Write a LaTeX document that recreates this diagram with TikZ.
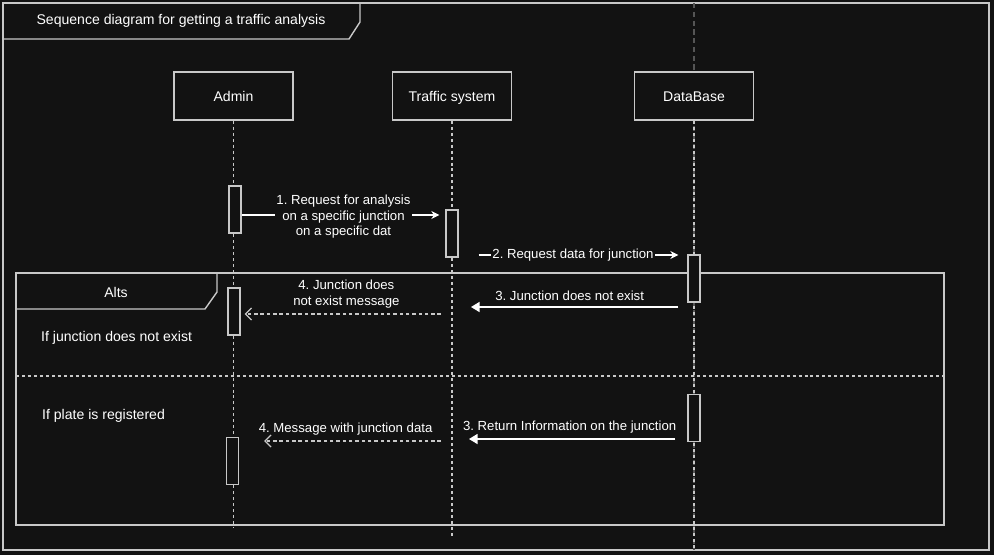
\documentclass[tikz,border=0pt]{standalone}
\usepackage{fontspec}
\setmainfont{Liberation Sans}
\usetikzlibrary{arrows.meta}
\definecolor{bgdark}{RGB}{18,18,18}
\definecolor{linegray}{RGB}{200,200,200}
\definecolor{fainted}{RGB}{85,85,85}
\tikzset{
	frame/.style={draw=linegray, line width=0.8pt},
	head/.style={draw=linegray, fill=bgdark, line width=0.8pt, text=white, minimum width=2.38cm, minimum height=0.96cm, text height=1.6ex, text depth=0.4ex},
	act/.style={draw=linegray, fill=bgdark, line width=0.8pt, minimum width=0.24cm, minimum height=0.94cm, inner sep=0pt},
	life/.style={draw=linegray, line width=0.7pt, dash pattern=on 1.7pt off 1.7pt},
	msg/.style={draw=white, line width=0.7pt, -{Stealth[length=1.6mm, width=1.6mm]}},
	reply/.style={draw=white, line width=0.7pt, -{Triangle[length=1.7mm, width=2mm]}},
	back/.style={draw=linegray, line width=0.7pt, dash pattern=on 2pt off 1.6pt, -{Straight Barb[length=1.2mm, width=2.4mm]}},
	lbl/.style={text=white, fill=bgdark, inner sep=1pt, align=center, font=\fontsize{7.5pt}{8.8pt}\selectfont},
	txt/.style={text=white},
	msgtxt/.style={text=white, inner sep=1pt, above=2pt, font=\fontsize{7.5pt}{8.8pt}\selectfont}
}
\frenchspacing
\begin{document}
\begin{tikzpicture}[x=0.02cm, y=-0.02cm, font=\fontsize{8pt}{9.6pt}\selectfont]
	\fill[bgdark] (0,0) rectangle (994,555);
	\useasboundingbox (0,0) rectangle (994,555);
	% outer frame and title
	\draw[frame] (3,3) rectangle (989,550);
	\draw[frame] (360,3) -- (360,22) -- (349,39) -- (3,39);
	\node[txt] (title) at (181,21) {Sequence diagram for getting a traffic analysis};
	\draw[fainted, line width=0.7pt, dash pattern=on 3pt off 2pt] (694,3) -- (694,550);
	% lifelines
	\node[head] (admin) at (233.5,96) {Admin};
	\node[head] (traffic) at (452,96) {Traffic system};
	\node[head] (db) at (694,96) {DataBase};
	\coordinate (adminend) at (233.5,528);
	\coordinate (trafficend) at (452,536);
	\coordinate (dbend) at (694,548);
	\draw[life] (admin.south) -- (adminend);
	\draw[life] (traffic.south) -- (trafficend);
	\draw[life] (db.south) -- (dbend);
	% alt frame
	\draw[frame] (16,273) rectangle (944,525);
	\draw[frame] (217,273) -- (217,292) -- (205,309) -- (16,309);
	\node[txt] (alts) at (116,292) {Alts};
	\draw[life, line width=0.8pt] (16,376) -- (944,376);
	\node[txt, anchor=west] (case1) at (35,338) {If junction does not exist};
	\node[txt, anchor=west] (case2) at (36,416) {If plate is registered};
	% activations
	\node[act] (adm1) at (235,209.5) {};
	\node[act] (trf1) at (452,233.5) {};
	\node[act] (db1) at (694,278.5) {};
	\node[act] (adm2) at (234,311.5) {};
	\node[act] (db2) at (694,418) {};
	\node[act] (adm3) at (232.5,461) {};
	% messages
	\draw[msg, shorten >=0.12cm] (adm1.east |- 0,215) -- node[lbl, yshift=-1pt]{1. Request for analysis\\on a specific junction\\on a specific dat} (trf1.west |- 0,215);
	\draw[msg, shorten <=0.4cm, shorten >=0.18cm] (trf1.east |- 0,255) -- node[lbl]{2. Request data for junction} (db1.west |- 0,255);
	\draw[reply, shorten <=0.18cm, shorten >=0.38cm] (db1.west |- 0,307) -- node[msgtxt]{3. Junction does not exist} (traffic |- 0,307);
	\draw[back, shorten <=0.22cm, shorten >=0.08cm] (traffic |- 0,314) -- node[msgtxt, align=center]{4. Junction does\\not exist message} (adm2.east |- 0,314);
	\draw[reply, shorten <=0.24cm, shorten >=0.34cm] (db2.west |- 0,439) -- node[msgtxt]{3. Return Information on the junction} (traffic |- 0,439);
	\draw[back, shorten <=0.22cm, shorten >=0.5cm] (traffic |- 0,441) -- node[msgtxt]{4. Message with junction data} (adm3.east |- 0,441);
\end{tikzpicture}
\end{document}
